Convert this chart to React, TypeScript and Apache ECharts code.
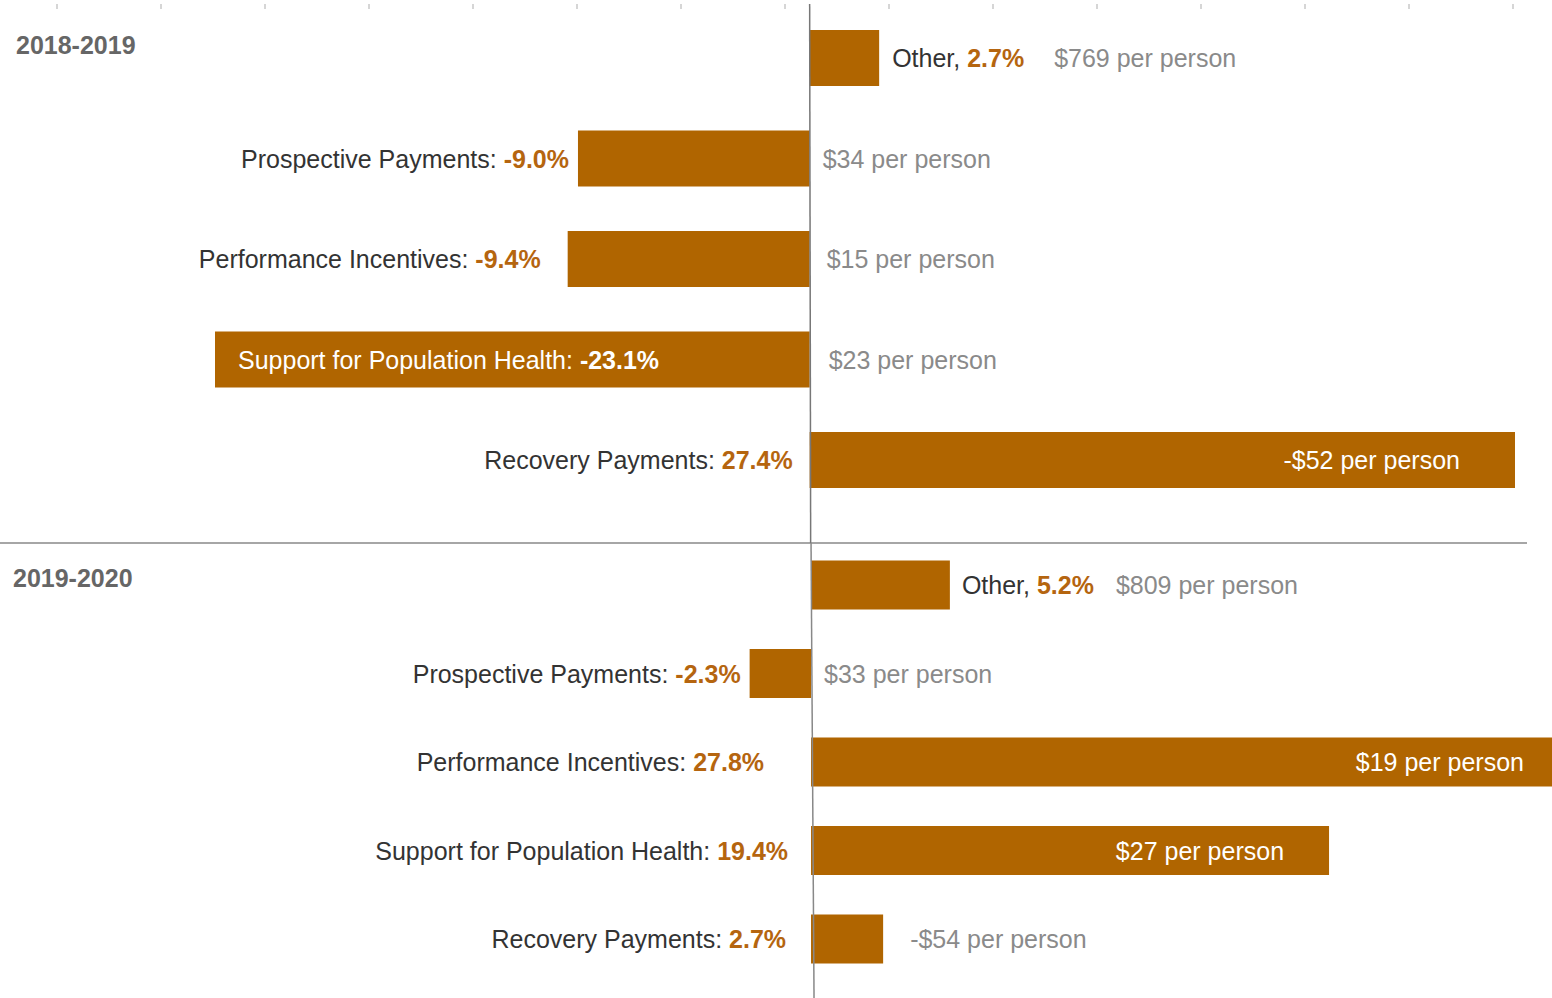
import React, { useEffect, useRef } from 'react';
import * as echarts from 'echarts';

const categories = [
  'Other',
  'Prospective Payments',
  'Performance Incentives',
  'Support for Population Health',
  'Recovery Payments',
];
const periods = ['2018-2019', '2019-2020'];
const change2019 = [2.7, -9.0, -9.4, -23.1, 27.4];
const change2020 = [5.2, -2.3, 27.8, 19.4, 2.7];
const perPerson2019 = ['$769', '$34', '$15', '$23', '-$52'];
const perPerson2020 = ['$809', '$33', '$19', '$27', '-$54'];

const BAR = '#B06500';
const PCT = '#B5650F';
const DARK = '#333333';
const GRAY = '#8A8A8A';
const FONT = '"Liberation Sans Narrow", "Arial Narrow", "Liberation Sans", Arial, sans-serif';
const FS = 25;

// label placements (style only)
const pctPlaceTop = [
  { position: 'right', distance: 13 },
  { position: 'left', distance: 9 },
  { position: 'left', distance: 27 },
  { position: 'insideLeft', distance: 23, inside: true },
  { position: 'left', distance: 17 },
];
const ppPlaceTop = [
  { position: 'right', distance: 175 },
  { position: 'right', distance: 13 },
  { position: 'right', distance: 17 },
  { position: 'right', distance: 19 },
  { position: 'insideRight', distance: 55, inside: true },
];
const pctPlaceBottom = [
  { position: 'right', distance: 12 },
  { position: 'left', distance: 9 },
  { position: 'left', distance: 47 },
  { position: 'left', distance: 23 },
  { position: 'left', distance: 25 },
];
const ppPlaceBottom = [
  { position: 'right', distance: 166 },
  { position: 'right', distance: 13 },
  { position: 'insideRight', distance: 28, inside: true },
  { position: 'insideRight', distance: 45, inside: true },
  { position: 'right', distance: 27 },
];

function pctData(values: number[], place: any[]) {
  return values.map((v, i) => {
    const p = place[i];
    const name = categories[i];
    const sep = name === 'Other' ? ', ' : ': ';
    const pct = v.toFixed(1) + '%';
    return {
      value: v,
      label: {
        show: true,
        position: p.position,
        distance: p.distance,
        formatter: p.inside ? `{wn|${name}${sep}}{wp|${pct}}` : `{n|${name}${sep}}{p|${pct}}`,
      },
    };
  });
}

function ppData(values: number[], pp: string[], place: any[]) {
  return values.map((v, i) => {
    const p = place[i];
    return {
      value: v,
      label: {
        show: true,
        position: p.position,
        distance: p.distance,
        formatter: p.inside ? `{w|${pp[i]} per person}` : `{g|${pp[i]} per person}`,
      },
    };
  });
}

const rich = {
  n: { color: DARK, fontSize: FS, fontFamily: FONT },
  p: { color: PCT, fontSize: FS, fontFamily: FONT, fontWeight: 'bold' },
  wn: { color: '#fff', fontSize: FS, fontFamily: FONT },
  wp: { color: '#fff', fontSize: FS, fontFamily: FONT, fontWeight: 'bold' },
  g: { color: GRAY, fontSize: FS, fontFamily: FONT },
  w: { color: '#fff', fontSize: FS, fontFamily: FONT },
};

export default function App() {
  const ref = useRef<HTMLDivElement>(null);
  useEffect(() => {
    const chart = echarts.init(ref.current!, null, { renderer: 'svg' });
    const hiddenY = (gi: number) => ({
      type: 'category',
      gridIndex: gi,
      data: categories,
      inverse: true,
      show: false,
    });
    chart.setOption({
      animation: false,
      backgroundColor: '#fff',
      grid: [
        { left: 215, width: 1300, top: 7.75, height: 502.5 },
        { left: 10, width: 1542, top: 540.75, height: 442.5 },
        { left: 57, width: 1456, top: 8, height: 1 },
      ],
      xAxis: [
        { type: 'value', gridIndex: 0, min: -23.1, max: 27.4, show: false },
        { type: 'value', gridIndex: 1, min: -30, max: 27.75, show: false },
        {
          type: 'value',
          gridIndex: 2,
          min: 0,
          max: 14,
          interval: 1,
          position: 'top',
          axisLine: { show: false },
          axisTick: { show: true, length: 5, lineStyle: { color: '#c8c8c8', width: 1.5 } },
          axisLabel: { show: false },
          splitLine: { show: false },
        },
      ],
      yAxis: [
        hiddenY(0),
        hiddenY(1),
        { type: 'value', gridIndex: 2, show: false },
      ],
      series: [
        {
          type: 'bar',
          name: periods[0],
          xAxisIndex: 0,
          yAxisIndex: 0,
          barWidth: 56,
          itemStyle: { color: BAR },
          label: { rich },
          data: pctData(change2019, pctPlaceTop),
        },
        {
          type: 'bar',
          name: periods[0] + ' pp',
          xAxisIndex: 0,
          yAxisIndex: 0,
          barWidth: 56,
          barGap: '-100%',
          silent: true,
          itemStyle: { color: 'rgba(0,0,0,0)' },
          label: { rich },
          data: ppData(change2019, perPerson2019, ppPlaceTop),
        },
        {
          type: 'bar',
          name: periods[1],
          xAxisIndex: 1,
          yAxisIndex: 1,
          barWidth: 49,
          itemStyle: { color: BAR },
          label: { rich },
          data: pctData(change2020, pctPlaceBottom),
        },
        {
          type: 'bar',
          name: periods[1] + ' pp',
          xAxisIndex: 1,
          yAxisIndex: 1,
          barWidth: 49,
          barGap: '-100%',
          silent: true,
          itemStyle: { color: 'rgba(0,0,0,0)' },
          label: { rich },
          data: ppData(change2020, perPerson2020, ppPlaceBottom),
        },
      ],
    });
    const z0 = chart.convertToPixel({ xAxisIndex: 0 }, 0) as number;
    const z1 = chart.convertToPixel({ xAxisIndex: 1 }, 0) as number;
    chart.setOption({
      graphic: [
        {
          type: 'line',
          z: 10,
          shape: { x1: z0, y1: 4, x2: z0 + 1, y2: 543 },
          style: { stroke: '#777', lineWidth: 1.5 },
        },
        {
          type: 'line',
          z: 10,
          shape: { x1: z1, y1: 543, x2: z1 + 3, y2: 998 },
          style: { stroke: '#888', lineWidth: 1.5 },
        },
        {
          type: 'line',
          shape: { x1: 0, y1: 543, x2: 1527, y2: 543 },
          style: { stroke: '#888', lineWidth: 1.5 },
        },
        {
          type: 'text',
          x: 16,
          y: 45,
          style: {
            text: periods[0],
            fill: '#666',
            font: `bold 25px ${FONT}`,
            verticalAlign: 'middle',
          },
        },
        {
          type: 'text',
          x: 13,
          y: 578,
          style: {
            text: periods[1],
            fill: '#666',
            font: `bold 25px ${FONT}`,
            verticalAlign: 'middle',
          },
        },
      ],
    });
    return () => chart.dispose();
  }, []);
  return (
    <div
      ref={ref}
      style={{ position: 'fixed', left: 0, top: 0, width: 1552, height: 998, background: '#fff' }}
    />
  );
}
